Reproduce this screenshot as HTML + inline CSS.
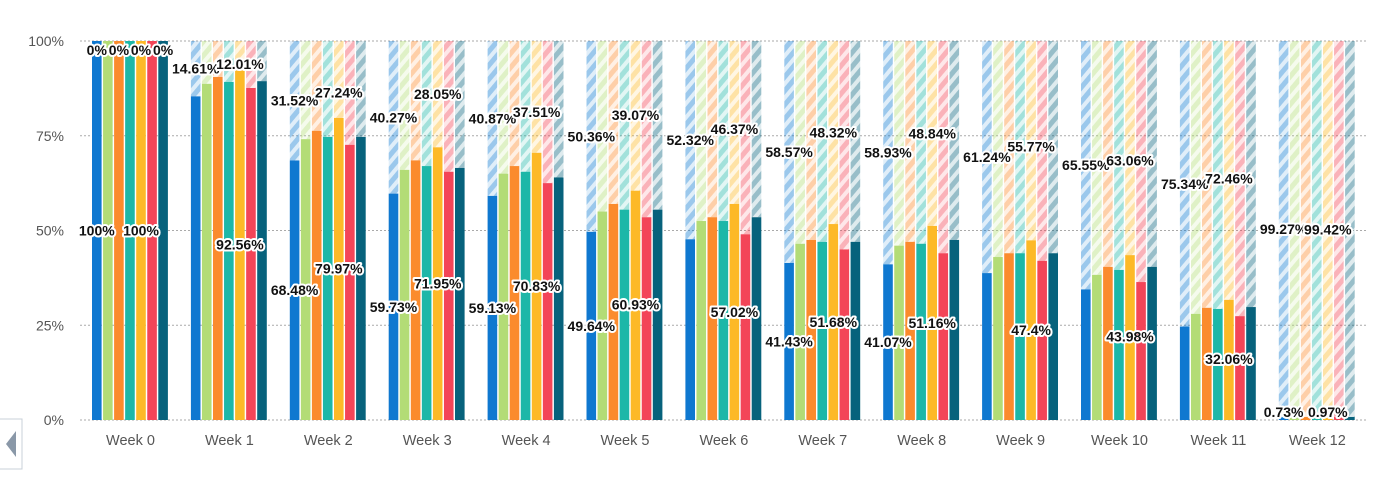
<!DOCTYPE html>
<html><head><meta charset="utf-8">
<style>
html,body{margin:0;padding:0;background:#fff;}
svg{display:block;font-family:"Liberation Sans",sans-serif;}
.lbl{font-size:14px;font-weight:bold;fill:#111;stroke:#fff;stroke-width:4px;paint-order:stroke;stroke-linejoin:round;text-anchor:middle;}
</style></head>
<body>
<svg id="chart" width="1400" height="480"></svg>
<script>
const categories=["Week 0","Week 1","Week 2","Week 3","Week 4","Week 5","Week 6","Week 7","Week 8","Week 9","Week 10","Week 11","Week 12"];
const seriesBlue=[100,85.39,68.48,59.73,59.13,49.64,47.68,41.43,41.07,38.76,34.45,24.66,0.73];
const seriesGreen=[100,88.7,74.1,66,65,55,52.5,46.5,46,43,38.3,28,0.8];
const seriesOrange=[100,90.5,76.3,68.5,67,57,53.5,47.5,47,44,40.4,29.6,0.8];
const seriesTeal=[100,89.2,74.7,67,65.5,55.5,52.5,47,46.5,44,39.6,29.3,0.8];
const seriesYellow=[100,92.3,79.7,71.95,70.5,60.5,57,51.7,51.2,47.4,43.5,31.7,0.58];
const seriesRed=[100,87.6,72.6,65.5,62.5,53.5,49,45,44,42,36.4,27.4,0.8];
const seriesDark=[100,89.4,74.7,66.5,64,55.5,53.5,47,47.5,44,40.4,29.8,0.8];
const blueValLabels=[100,null,68.48,59.73,59.13,49.64,null,41.43,41.07,null,null,null,0.73];
const blueRemLabels=[0,14.61,31.52,40.27,40.87,50.36,52.32,58.57,58.93,61.24,65.55,75.34,99.27];
const yellowValLabels=[100,92.56,79.97,71.95,70.83,60.93,57.02,51.68,51.16,47.4,43.98,32.06,0.97];
const yellowRemLabels=[0,12.01,27.24,28.05,37.51,39.07,46.37,48.32,48.84,55.77,63.06,72.46,99.42];
const yTicks=[0,25,50,75,100];

const series=[seriesBlue,seriesGreen,seriesOrange,seriesTeal,seriesYellow,seriesRed,seriesDark];
const colors=["#0f78d0","#b3dc76","#fb8b2d","#1db7a8","#fdb927","#f34558","#07627c"];
const names=["blue","green","orange","teal","yellow","red","dark-teal"];
const NS="http://www.w3.org/2000/svg";
const svg=document.getElementById('chart');
const y0=420,y1=41;
const yS=v=>y0-(v/100)*(y0-y1);
const gx=i=>92+i*98.9;
const bx=(i,s)=>gx(i)+s*11.05;
const BW=9.6;
function mk(t,a,p){const e=document.createElementNS(NS,t);for(const k in a)e.setAttribute(k,a[k]);(p||svg).appendChild(e);return e;}
const defs=mk('defs',{});
colors.forEach((c,k)=>{
  const p=mk('pattern',{id:'h'+k,width:9,height:9,patternUnits:'userSpaceOnUse',patternTransform:'rotate(40)'},defs);
  mk('rect',{width:9,height:9,fill:c,'fill-opacity':0.13},p);
  mk('rect',{width:5,height:9,fill:c,'fill-opacity':0.33},p);
});
yTicks.forEach(t=>{
  const l=mk('line',{x1:80,x2:1368,y1:yS(t),y2:yS(t),stroke:'#aaa','stroke-dasharray':'2,2','stroke-width':1});
  
  
  const tx=mk('text',{x:64,y:yS(t)+5,'text-anchor':'end','font-size':14,fill:'#555'});
  tx.textContent=t+'%';
  
  
});
categories.forEach((cat,i)=>{
  const g=mk('g',{});
  
  
  series.forEach((s,k)=>{
    const v=s[i];const x=bx(i,k);
    const r=mk('rect',{x:x,y:y1,width:BW,height:yS(v)-y1,fill:'url(#h'+k+')'},g);
    
    
    const b=mk('rect',{x:x,y:yS(v),width:BW,height:y0-yS(v),fill:colors[k]},g);
    
    
  });
  const t=mk('text',{x:gx(i)+38.5,y:445,'text-anchor':'middle','font-size':14.5,fill:'#555'});
  t.textContent=cat;
  
  
});
const clamp=y=>Math.max(50,Math.min(412,y));
function lab(x,yv,txt,name){
  const t=mk('text',{x:x,y:clamp(yv)+5,class:'lbl'});
  t.textContent=txt;
  
  
}
categories.forEach((cat,i)=>{
  const xb=bx(i,0)+BW/2, xy=bx(i,4)+BW/2;
  if(blueValLabels[i]!==null) lab(xb,yS(blueValLabels[i]/2),blueValLabels[i]+'%','blue-value-label');
  if(blueRemLabels[i]!==null) lab(xb,yS(100-blueRemLabels[i]/2),blueRemLabels[i]+'%','blue-remainder-label');
  if(yellowValLabels[i]!==null) lab(xy,yS(yellowValLabels[i]/2),yellowValLabels[i]+'%','yellow-value-label');
  if(yellowRemLabels[i]!==null) lab(xy,yS(100-yellowRemLabels[i]/2),yellowRemLabels[i]+'%','yellow-remainder-label');
  if(i===0){
    lab(bx(0,2)+BW/2,yS(100-yellowRemLabels[0]/2),'0%','orange-remainder-label');
    lab(bx(0,6)+BW/2,yS(100-yellowRemLabels[0]/2),'0%','dark-remainder-label');
  }
});
const nb=mk('g',{});


mk('rect',{x:-2,y:419,width:24,height:50,fill:'#fff',stroke:'#c8d0d8'},nb);
mk('polygon',{points:'16,431 16,457 6,444',fill:'#8a98a8'},nb);
</script>
</body></html>
